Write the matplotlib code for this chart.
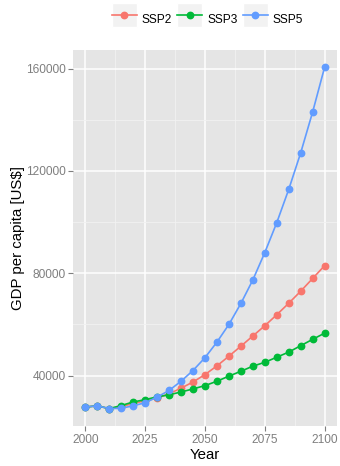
import matplotlib
matplotlib.use('Agg')
from matplotlib import pyplot as plt
from matplotlib.patches import Rectangle
from matplotlib.legend_handler import HandlerLine2D

years = list(range(2000, 2101, 5))
ssp2 = [27700, 28200, 27100, 27900, 29100, 30200, 31200, 32900, 35100, 37500,
        40400, 43800, 47600, 51500, 55500, 59500, 63800, 68300, 73000, 78000, 83000]
ssp3 = [27700, 28200, 27100, 28300, 29700, 30600, 31700, 32500, 33600, 34800,
        36100, 37800, 39800, 41700, 43700, 45200, 47200, 49200, 51700, 54200, 56600]
ssp5 = [27700, 28200, 27100, 27250, 28200, 29400, 31600, 34200, 37800, 42000,
        47000, 53100, 60000, 68200, 77400, 88100, 99800, 112800, 127100, 143100, 160600]
series = [('SSP2', ssp2, '#F8766D'), ('SSP3', ssp3, '#00BA38'), ('SSP5', ssp5, '#619CFF')]

x_ticks = [2000, 2025, 2050, 2075, 2100]
y_ticks = [40000, 80000, 120000, 160000]


class KeyHandler(HandlerLine2D):
  # ggplot style key: grey box centred on the line
  def create_artists(self, legend, orig_handle, xdescent, ydescent, width,
                     height, fontsize, trans):
    box = Rectangle((-xdescent, -ydescent / 2), width, height, fc='#F2F2F2',
                    ec='white', lw=1, transform=trans)
    arts = super().create_artists(legend, orig_handle, xdescent, ydescent,
                                  width, height, fontsize, trans)
    return [box] + arts


plt.rcParams['font.family'] = ['Liberation Sans', 'DejaVu Sans']

fig = plt.figure(figsize=(3.4, 4.66), dpi=100)
ax = fig.add_axes([0.2156, 0.0858, 0.7744, 0.8069])
ax.set_facecolor('#E5E5E5')
for s in ax.spines.values():
  s.set_visible(False)

lines = []
for name, vals, col in series:
  ln, = ax.plot(years, vals, color=col, lw=1.2, marker='o', ms=4.6, mec=col,
                zorder=3, label=name)
  lines.append(ln)

ax.set_xlim(1995, 2105)
ax.set_ylim(20300, 167300)
ax.set_xticks(x_ticks)
ax.set_yticks(y_ticks)
ax.set_xticks([2012.5, 2037.5, 2062.5, 2087.5], minor=True)
ax.set_yticks([60000, 100000, 140000], minor=True)
ax.grid(which='major', color='white', lw=1.1, zorder=0)
ax.grid(which='minor', color='#F2F2F2', lw=0.6, zorder=0)
ax.set_axisbelow(True)
ax.tick_params(which='major', length=3.5, width=0.8, color='#7F7F7F',
               labelcolor='#7F7F7F', labelsize=8.6, pad=2)
ax.tick_params(which='minor', length=0)
ax.set_xlabel('Year', fontsize=10.8, labelpad=2)
ax.set_ylabel('GDP per capita [US$]', fontsize=10.8, labelpad=1)

fig.legend(lines, [s[0] for s in series], loc='center', bbox_to_anchor=(0.61, 0.958),
           ncol=3, frameon=False, fontsize=8.6, handlelength=2.1, handleheight=2.75,
           handletextpad=0.4, columnspacing=0.45, borderpad=0,
           handler_map={l: KeyHandler() for l in lines})

fig.savefig('out.png', dpi=100)
